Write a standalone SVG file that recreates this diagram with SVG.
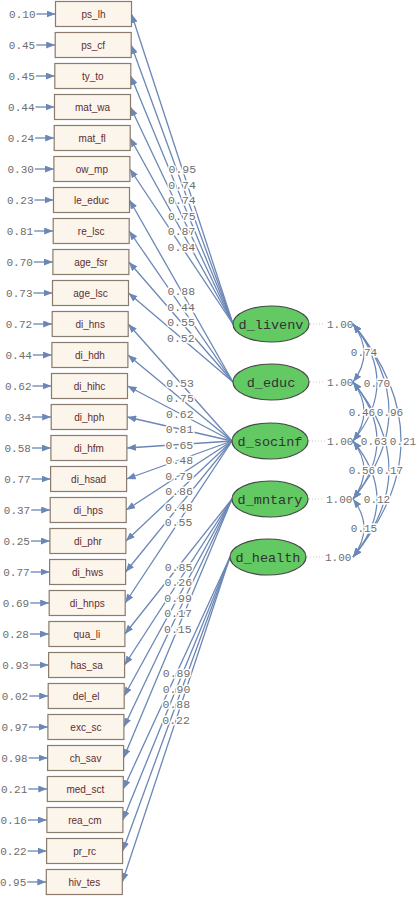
<svg xmlns="http://www.w3.org/2000/svg" width="417" height="898" viewBox="0 0 417 898">
<style>
.box rect{fill:#fcf5ec;stroke:#8a7b6c;stroke-width:1.2}
.box text{font-family:"Liberation Sans",Arial,sans-serif;font-size:10px;fill:#5e2e2e;text-anchor:middle}
.lat ellipse{fill:#63c963;stroke:#474747;stroke-width:1.2}
.lat text{font-family:"Liberation Mono","Courier New",monospace;font-size:13.5px;fill:#333;text-anchor:middle}
.ln{stroke:#6b87b5;stroke-width:1.3;fill:none;marker-end:url(#ah)}
.arc{stroke:#6b87b5;stroke-width:1.2;fill:none;marker-start:url(#ah);marker-end:url(#ah)}
.dot{stroke:#c8c8c8;stroke-width:1;stroke-dasharray:1 2}
.num{font-family:"Liberation Mono","Courier New",monospace;font-size:11px;fill:#6e6e6e}
.lbl{font-family:"Liberation Mono","Courier New",monospace;font-size:11.5px;fill:#6e6e6e;text-anchor:middle;paint-order:stroke;stroke:#fff;stroke-width:3px}
.cl{font-size:11px}
.err{text-anchor:end}
</style>
<defs>
<marker id="ah" viewBox="0 0 9 7" refX="9" refY="3.5" markerWidth="9" markerHeight="7" markerUnits="userSpaceOnUse" orient="auto-start-reverse">
<path d="M0,0 L9,3.5 L0,7 z" fill="#6b87b5"/>
</marker>
</defs>
<rect width="417" height="898" fill="#fff"/>
<g id="connectors">
<line class="ln" x1="233" y1="324" x2="131.5" y2="14"/>
<line class="ln" x1="233" y1="324" x2="131.2" y2="45"/>
<line class="ln" x1="233" y1="324" x2="130.8" y2="76"/>
<line class="ln" x1="233" y1="324" x2="130.5" y2="107"/>
<line class="ln" x1="233" y1="324" x2="130.2" y2="138"/>
<line class="ln" x1="233" y1="324" x2="129.9" y2="169"/>
<line class="ln" x1="233" y1="382" x2="129.5" y2="200"/>
<line class="ln" x1="233" y1="382" x2="129.2" y2="231"/>
<line class="ln" x1="233" y1="382" x2="128.9" y2="262"/>
<line class="ln" x1="233" y1="382" x2="128.5" y2="293"/>
<line class="ln" x1="232" y1="441" x2="128.2" y2="324"/>
<line class="ln" x1="232" y1="441" x2="127.9" y2="355"/>
<line class="ln" x1="232" y1="441" x2="127.5" y2="386"/>
<line class="ln" x1="232" y1="441" x2="127.2" y2="417"/>
<line class="ln" x1="232" y1="441" x2="126.9" y2="448"/>
<line class="ln" x1="232" y1="441" x2="126.6" y2="479"/>
<line class="ln" x1="232" y1="441" x2="126.2" y2="510"/>
<line class="ln" x1="232" y1="441" x2="125.9" y2="541"/>
<line class="ln" x1="232" y1="441" x2="125.6" y2="572"/>
<line class="ln" x1="232" y1="441" x2="125.2" y2="603"/>
<line class="ln" x1="232" y1="499" x2="124.9" y2="634"/>
<line class="ln" x1="232" y1="499" x2="124.6" y2="665"/>
<line class="ln" x1="232" y1="499" x2="124.2" y2="696"/>
<line class="ln" x1="232" y1="499" x2="123.9" y2="727"/>
<line class="ln" x1="232" y1="499" x2="123.6" y2="758"/>
<line class="ln" x1="230" y1="557" x2="123.3" y2="789"/>
<line class="ln" x1="230" y1="557" x2="122.9" y2="820"/>
<line class="ln" x1="230" y1="557" x2="122.6" y2="851"/>
<line class="ln" x1="230" y1="557" x2="122.3" y2="882"/>
<line class="ln" x1="36.5" y1="14" x2="55.5" y2="14"/>
<line class="ln" x1="36.2" y1="45" x2="55.2" y2="45"/>
<line class="ln" x1="35.8" y1="76" x2="54.8" y2="76"/>
<line class="ln" x1="35.5" y1="107" x2="54.5" y2="107"/>
<line class="ln" x1="35.2" y1="138" x2="54.2" y2="138"/>
<line class="ln" x1="34.9" y1="169" x2="53.9" y2="169"/>
<line class="ln" x1="34.5" y1="200" x2="53.5" y2="200"/>
<line class="ln" x1="34.2" y1="231" x2="53.2" y2="231"/>
<line class="ln" x1="33.9" y1="262" x2="52.9" y2="262"/>
<line class="ln" x1="33.5" y1="293" x2="52.5" y2="293"/>
<line class="ln" x1="33.2" y1="324" x2="52.2" y2="324"/>
<line class="ln" x1="32.9" y1="355" x2="51.9" y2="355"/>
<line class="ln" x1="32.5" y1="386" x2="51.5" y2="386"/>
<line class="ln" x1="32.2" y1="417" x2="51.2" y2="417"/>
<line class="ln" x1="31.9" y1="448" x2="50.9" y2="448"/>
<line class="ln" x1="31.6" y1="479" x2="50.6" y2="479"/>
<line class="ln" x1="31.2" y1="510" x2="50.2" y2="510"/>
<line class="ln" x1="30.9" y1="541" x2="49.9" y2="541"/>
<line class="ln" x1="30.6" y1="572" x2="49.6" y2="572"/>
<line class="ln" x1="30.2" y1="603" x2="49.2" y2="603"/>
<line class="ln" x1="29.9" y1="634" x2="48.9" y2="634"/>
<line class="ln" x1="29.6" y1="665" x2="48.6" y2="665"/>
<line class="ln" x1="29.2" y1="696" x2="48.2" y2="696"/>
<line class="ln" x1="28.9" y1="727" x2="47.9" y2="727"/>
<line class="ln" x1="28.6" y1="758" x2="47.6" y2="758"/>
<line class="ln" x1="28.3" y1="789" x2="47.3" y2="789"/>
<line class="ln" x1="27.9" y1="820" x2="46.9" y2="820"/>
<line class="ln" x1="27.6" y1="851" x2="46.6" y2="851"/>
<line class="ln" x1="27.3" y1="882" x2="46.3" y2="882"/>
<line class="dot" x1="310" y1="324" x2="325" y2="324"/>
<line class="dot" x1="310" y1="382" x2="325" y2="382"/>
<line class="dot" x1="309" y1="441" x2="325" y2="441"/>
<line class="dot" x1="309" y1="499" x2="324" y2="499"/>
<line class="dot" x1="307" y1="557" x2="323" y2="557"/>
<path class="arc" d="M353,324 Q375,353 353,382"/>
<path class="arc" d="M353,382 Q375,411.5 353,441"/>
<path class="arc" d="M353,441 Q375,470 353,499"/>
<path class="arc" d="M353,499 Q375,528 353,557"/>
<path class="arc" d="M353,324 Q401,382.5 353,441"/>
<path class="arc" d="M353,382 Q401,440.5 353,499"/>
<path class="arc" d="M353,441 Q401,499 353,557"/>
<path class="arc" d="M353,324 Q425,411.5 353,499"/>
<path class="arc" d="M353,382 Q425,469.5 353,557"/>
<path class="arc" d="M353,324 Q449,440.5 353,557"/>
</g>
<g id="labels">
<text class="lbl" x="182.3" y="173">0.95</text>
<text class="lbl" x="182.1" y="188.5">0.74</text>
<text class="lbl" x="181.9" y="204">0.74</text>
<text class="lbl" x="181.8" y="219.5">0.75</text>
<text class="lbl" x="181.6" y="235">0.87</text>
<text class="lbl" x="181.4" y="250.5">0.84</text>
<text class="lbl" x="181.3" y="295">0.88</text>
<text class="lbl" x="181.1" y="310.5">0.44</text>
<text class="lbl" x="181" y="326">0.55</text>
<text class="lbl" x="180.8" y="341.5">0.52</text>
<text class="lbl" x="180.1" y="386.5">0.53</text>
<text class="lbl" x="180" y="402">0.75</text>
<text class="lbl" x="179.8" y="417.5">0.62</text>
<text class="lbl" x="179.6" y="433">0.81</text>
<text class="lbl" x="179.4" y="448.5">0.65</text>
<text class="lbl" x="179.3" y="464">0.48</text>
<text class="lbl" x="179.1" y="479.5">0.79</text>
<text class="lbl" x="179" y="495">0.86</text>
<text class="lbl" x="178.8" y="510.5">0.48</text>
<text class="lbl" x="178.6" y="526">0.55</text>
<text class="lbl" x="178.5" y="570.5">0.85</text>
<text class="lbl" x="178.3" y="586">0.26</text>
<text class="lbl" x="178.1" y="601.5">0.99</text>
<text class="lbl" x="178" y="617">0.17</text>
<text class="lbl" x="177.8" y="632.5">0.15</text>
<text class="lbl" x="176.6" y="677">0.89</text>
<text class="lbl" x="176.5" y="692.5">0.90</text>
<text class="lbl" x="176.3" y="708">0.88</text>
<text class="lbl" x="176.1" y="723.5">0.22</text>
<text class="lbl cl" x="364" y="356">0.74</text>
<text class="lbl cl" x="362" y="415.5">0.46</text>
<text class="lbl cl" x="362" y="474">0.56</text>
<text class="lbl cl" x="364" y="532">0.15</text>
<text class="lbl cl" x="377" y="386.5">0.70</text>
<text class="lbl cl" x="374" y="444.5">0.63</text>
<text class="lbl cl" x="377" y="503">0.12</text>
<text class="lbl cl" x="390" y="415.5">0.96</text>
<text class="lbl cl" x="390" y="473.5">0.17</text>
<text class="lbl cl" x="403" y="444.5">0.21</text>
<text class="num" x="327" y="328">1.00</text>
<text class="num" x="327" y="386">1.00</text>
<text class="num" x="327" y="445">1.00</text>
<text class="num" x="326" y="503">1.00</text>
<text class="num" x="325" y="561">1.00</text>
<text class="num err" x="35.5" y="18">0.10</text>
<text class="num err" x="35.2" y="49">0.45</text>
<text class="num err" x="34.8" y="80">0.45</text>
<text class="num err" x="34.5" y="111">0.44</text>
<text class="num err" x="34.2" y="142">0.24</text>
<text class="num err" x="33.9" y="173">0.30</text>
<text class="num err" x="33.5" y="204">0.23</text>
<text class="num err" x="33.2" y="235">0.81</text>
<text class="num err" x="32.9" y="266">0.70</text>
<text class="num err" x="32.5" y="297">0.73</text>
<text class="num err" x="32.2" y="328">0.72</text>
<text class="num err" x="31.9" y="359">0.44</text>
<text class="num err" x="31.5" y="390">0.62</text>
<text class="num err" x="31.2" y="421">0.34</text>
<text class="num err" x="30.9" y="452">0.58</text>
<text class="num err" x="30.6" y="483">0.77</text>
<text class="num err" x="30.2" y="514">0.37</text>
<text class="num err" x="29.9" y="545">0.25</text>
<text class="num err" x="29.6" y="576">0.77</text>
<text class="num err" x="29.2" y="607">0.69</text>
<text class="num err" x="28.9" y="638">0.28</text>
<text class="num err" x="28.6" y="669">0.93</text>
<text class="num err" x="28.2" y="700">0.02</text>
<text class="num err" x="27.9" y="731">0.97</text>
<text class="num err" x="27.6" y="762">0.98</text>
<text class="num err" x="27.3" y="793">0.21</text>
<text class="num err" x="26.9" y="824">0.16</text>
<text class="num err" x="26.6" y="855">0.22</text>
<text class="num err" x="26.3" y="886">0.95</text>
</g>
<g id="ps_lh" class="box"><rect x="55.5" y="1.5" width="76" height="25"/><text x="93.5" y="18">ps_lh</text></g>
<g id="ps_cf" class="box"><rect x="55.2" y="32.5" width="76" height="25"/><text x="93.2" y="49">ps_cf</text></g>
<g id="ty_to" class="box"><rect x="54.8" y="63.5" width="76" height="25"/><text x="92.8" y="80">ty_to</text></g>
<g id="mat_wa" class="box"><rect x="54.5" y="94.5" width="76" height="25"/><text x="92.5" y="111">mat_wa</text></g>
<g id="mat_fl" class="box"><rect x="54.2" y="125.5" width="76" height="25"/><text x="92.2" y="142">mat_fl</text></g>
<g id="ow_mp" class="box"><rect x="53.9" y="156.5" width="76" height="25"/><text x="91.9" y="173">ow_mp</text></g>
<g id="le_educ" class="box"><rect x="53.5" y="187.5" width="76" height="25"/><text x="91.5" y="204">le_educ</text></g>
<g id="re_lsc" class="box"><rect x="53.2" y="218.5" width="76" height="25"/><text x="91.2" y="235">re_lsc</text></g>
<g id="age_fsr" class="box"><rect x="52.9" y="249.5" width="76" height="25"/><text x="90.9" y="266">age_fsr</text></g>
<g id="age_lsc" class="box"><rect x="52.5" y="280.5" width="76" height="25"/><text x="90.5" y="297">age_lsc</text></g>
<g id="di_hns" class="box"><rect x="52.2" y="311.5" width="76" height="25"/><text x="90.2" y="328">di_hns</text></g>
<g id="di_hdh" class="box"><rect x="51.9" y="342.5" width="76" height="25"/><text x="89.9" y="359">di_hdh</text></g>
<g id="di_hihc" class="box"><rect x="51.5" y="373.5" width="76" height="25"/><text x="89.5" y="390">di_hihc</text></g>
<g id="di_hph" class="box"><rect x="51.2" y="404.5" width="76" height="25"/><text x="89.2" y="421">di_hph</text></g>
<g id="di_hfm" class="box"><rect x="50.9" y="435.5" width="76" height="25"/><text x="88.9" y="452">di_hfm</text></g>
<g id="di_hsad" class="box"><rect x="50.6" y="466.5" width="76" height="25"/><text x="88.6" y="483">di_hsad</text></g>
<g id="di_hps" class="box"><rect x="50.2" y="497.5" width="76" height="25"/><text x="88.2" y="514">di_hps</text></g>
<g id="di_phr" class="box"><rect x="49.9" y="528.5" width="76" height="25"/><text x="87.9" y="545">di_phr</text></g>
<g id="di_hws" class="box"><rect x="49.6" y="559.5" width="76" height="25"/><text x="87.6" y="576">di_hws</text></g>
<g id="di_hnps" class="box"><rect x="49.2" y="590.5" width="76" height="25"/><text x="87.2" y="607">di_hnps</text></g>
<g id="qua_li" class="box"><rect x="48.9" y="621.5" width="76" height="25"/><text x="86.9" y="638">qua_li</text></g>
<g id="has_sa" class="box"><rect x="48.6" y="652.5" width="76" height="25"/><text x="86.6" y="669">has_sa</text></g>
<g id="del_el" class="box"><rect x="48.2" y="683.5" width="76" height="25"/><text x="86.2" y="700">del_el</text></g>
<g id="exc_sc" class="box"><rect x="47.9" y="714.5" width="76" height="25"/><text x="85.9" y="731">exc_sc</text></g>
<g id="ch_sav" class="box"><rect x="47.6" y="745.5" width="76" height="25"/><text x="85.6" y="762">ch_sav</text></g>
<g id="med_sct" class="box"><rect x="47.3" y="776.5" width="76" height="25"/><text x="85.3" y="793">med_sct</text></g>
<g id="rea_cm" class="box"><rect x="46.9" y="807.5" width="76" height="25"/><text x="84.9" y="824">rea_cm</text></g>
<g id="pr_rc" class="box"><rect x="46.6" y="838.5" width="76" height="25"/><text x="84.6" y="855">pr_rc</text></g>
<g id="hiv_tes" class="box"><rect x="46.3" y="869.5" width="76" height="25"/><text x="84.3" y="886">hiv_tes</text></g>
<g id="d_livenv" class="lat"><ellipse cx="271" cy="324" rx="38" ry="18"/><text x="271" y="328.5">d_livenv</text></g>
<g id="d_educ" class="lat"><ellipse cx="271" cy="382" rx="38" ry="18"/><text x="271" y="386.5">d_educ</text></g>
<g id="d_socinf" class="lat"><ellipse cx="270" cy="441" rx="38" ry="18"/><text x="270" y="445.5">d_socinf</text></g>
<g id="d_mntary" class="lat"><ellipse cx="270" cy="499" rx="38" ry="18"/><text x="270" y="503.5">d_mntary</text></g>
<g id="d_health" class="lat"><ellipse cx="268" cy="557" rx="38" ry="18"/><text x="268" y="561.5">d_health</text></g>
</svg>
